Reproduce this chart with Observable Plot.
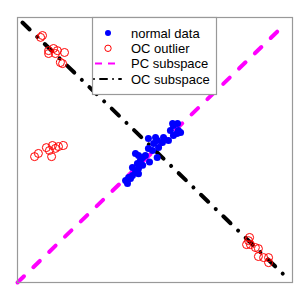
<!DOCTYPE html>
<html>
<head>
<meta charset="utf-8">
<script src="https://cdn.jsdelivr.net/npm/d3@7"></script>
<script src="https://cdn.jsdelivr.net/npm/@observablehq/plot@0.6"></script>
<style>
  html, body { margin: 0; padding: 0; background: #fff; }
</style>
</head>
<body>
<div id="chart"></div>
<script>
// normal data (blue filled)
const normalX = [39.3, 40.4, 41.8, 42.9, 44.0, 43.6, 44.7, 45.5, 44.0, 42.9, 46.5, 47.6, 49.1, 49.5, 50.9, 51.3, 52.7, 53.1, 50.8, 54.9, 55.6, 56.7, 56.7, 58.2, 56.4, 58.5, 50.2, 47.6, 41.8, 41.1, 45.5, 40.0, 44.0, 48.0, 59.3, 58.0];
const normalY = [38.5, 39.6, 40.4, 41.5, 43.0, 44.9, 46.0, 47.2, 47.9, 48.7, 47.9, 50.6, 49.8, 52.5, 53.6, 50.9, 52.8, 54.7, 47.2, 53.6, 57.4, 55.5, 59.2, 60.0, 60.0, 57.4, 54.7, 54.3, 43.4, 39.2, 44.2, 37.4, 41.0, 45.5, 56.6, 56.2];
// OC outliers (red open circles)
const outlierX = [8.4, 9.1, 11.3, 13.1, 14.5, 17.1, 11.3, 13.8, 15.6, 16.4,
                  6.2, 7.6, 10.5, 11.6, 12.4, 13.8, 14.9, 16.7, 12.7,
                  84.4, 84.0, 83.3, 84.7, 86.5, 87.6, 87.6, 89.5, 91.3, 91.3];
const outlierY = [92.5, 93.2, 87.5, 88.3, 87.5, 86.8, 86.4, 86.4, 83.0, 82.6,
                  47.5, 48.7, 50.9, 49.8, 47.5, 50.6, 51.3, 51.7, 51.7,
                  17.0, 15.8, 14.3, 14.3, 13.2, 12.8, 9.8, 9.4, 9.4, 7.5];
// subspace lines
const pcX = [0, 97.5];
const pcY = [0, 97.7];
const ocX = [1.8, 97.5];
const ocY = [98.1, 2.3];
const legendLabels = ["normal data", "OC outlier", "PC subspace", "OC subspace"];

const zip = (a, b) => a.map((v, i) => [v, b[i]]);

const chart = Plot.plot({
  width: 300,
  height: 300,
  marginLeft: 17,
  marginRight: 8,
  marginTop: 17,
  marginBottom: 18,
  x: {domain: [0, 100], axis: null},
  y: {domain: [0, 100], axis: null},
  style: {fontFamily: "'Liberation Sans', Arial, sans-serif", background: "#fff"},
  marks: [
    Plot.line(zip(pcX, pcY), {stroke: "#ff00ff", strokeWidth: 4, strokeDasharray: "9,13", strokeLinecap: "round"}),
    Plot.line(zip(ocX, ocY), {stroke: "#000", strokeWidth: 4, strokeDasharray: "10,10.5,0.01,10.5", strokeLinecap: "round"}),
    Plot.dot(zip(normalX, normalY), {r: 3.5, fill: "#0000ff", stroke: "none"}),
    Plot.dot(zip(outlierX, outlierY), {r: 4, fill: "none", stroke: "#ff0000", strokeWidth: 1}),
    Plot.frame({stroke: "#999", strokeWidth: 1.2})
  ]
});
document.getElementById("chart").appendChild(chart);

// legend overlay
const svg = d3.select(chart);
const lg = svg.append("g").attr("text-anchor", "start");
lg.append("rect").attr("x", 92.5).attr("y", 17.5).attr("width", 124).attr("height", 77)
  .attr("fill", "#fff").attr("stroke", "#999").attr("stroke-width", 1.2);
const rowY = [33, 48.3, 63.6, 79];
const symX = 108;
lg.append("circle").attr("cx", symX).attr("cy", rowY[0]).attr("r", 3).attr("fill", "#0000ff");
lg.append("circle").attr("cx", symX).attr("cy", rowY[1]).attr("r", 3.2).attr("fill", "none").attr("stroke", "#ff0000").attr("stroke-width", 1);
lg.append("line").attr("x1", 95).attr("x2", 121).attr("y1", rowY[2]).attr("y2", rowY[2])
  .attr("stroke", "#ff00ff").attr("stroke-width", 2).attr("stroke-dasharray", "7,6");
lg.append("line").attr("x1", 94).attr("x2", 121).attr("y1", rowY[3]).attr("y2", rowY[3])
  .attr("stroke", "#000").attr("stroke-width", 2).attr("stroke-dasharray", "0.01,6,7,6").attr("stroke-linecap", "round");
legendLabels.forEach((t, i) => {
  lg.append("text").attr("x", 131).attr("y", rowY[i]).attr("dy", "0.35em")
    .attr("text-anchor", "start")
    .attr("font-size", 13).attr("fill", "#000")
    .attr("font-family", "'Liberation Sans', Arial, sans-serif").text(t);
});
</script>
</body>
</html>
